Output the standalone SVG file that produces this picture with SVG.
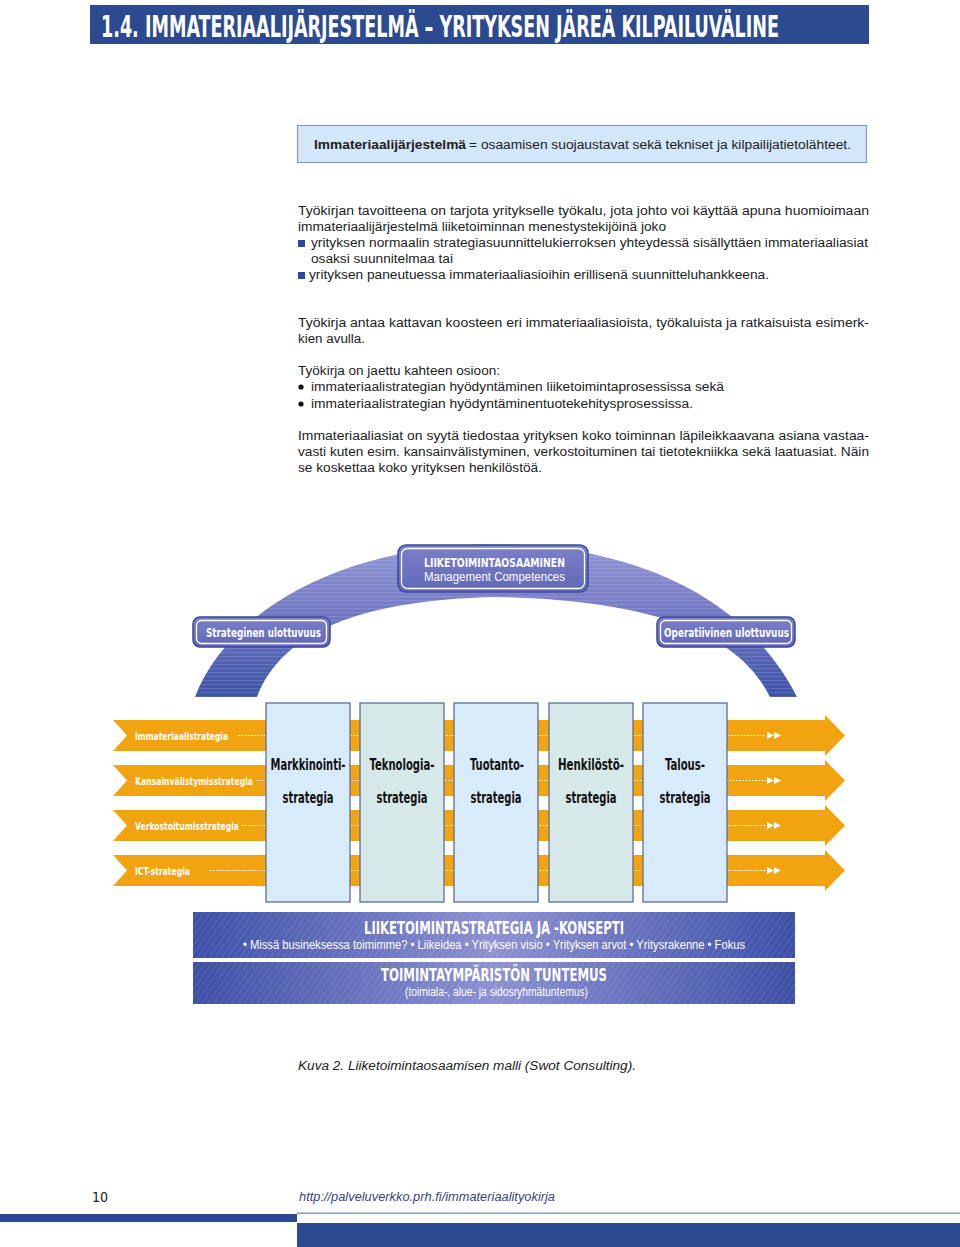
<svg xmlns="http://www.w3.org/2000/svg" width="960" height="1247" viewBox="0 0 960 1247">
<defs>
<style>
.body{font-family:"Liberation Sans",Arial,sans-serif;font-size:12.5px;fill:#222}
.cond{font-family:"Liberation Sans Narrow","DejaVu Sans Condensed","Liberation Sans",sans-serif;font-weight:bold}
.wh{fill:#fff}
.col{fill:#111;font-size:16px;text-anchor:middle}
.lbl{fill:#fff;font-size:11px}
.colbox{stroke:#5e6e96;stroke-width:1.3}
.blue1{fill:#d8ebfa}
.blue2{fill:#d6e8e8}
.orange{fill:#f1a40f}
.dots{stroke:#fff;stroke-width:1.2;stroke-dasharray:1.6 1.6;fill:none}
.tri{fill:#fff}
.pill{stroke:#3b4a98;stroke-width:1.5}
.pillin{fill:none;stroke:#fff;stroke-width:1.3}
</style>
<linearGradient id="archG" x1="0" y1="546" x2="0" y2="697" gradientUnits="userSpaceOnUse">
<stop offset="0" stop-color="#9397d8"/>
<stop offset="0.45" stop-color="#7277c3"/>
<stop offset="1" stop-color="#3b53a7"/>
</linearGradient>
<linearGradient id="pillG" x1="0" y1="0" x2="0" y2="1">
<stop offset="0" stop-color="#7c80c9"/>
<stop offset="1" stop-color="#6267b8"/>
</linearGradient>
<linearGradient id="panelG" x1="193" y1="0" x2="795" y2="0" gradientUnits="userSpaceOnUse">
<stop offset="0" stop-color="#3c4fa6"/>
<stop offset="0.5" stop-color="#8c90d1"/>
<stop offset="1" stop-color="#3c4fa6"/>
</linearGradient>
<pattern id="hstripe" width="6" height="4" patternUnits="userSpaceOnUse">
<rect width="6" height="1.2" fill="#ffffff" opacity="0.12"/>
</pattern>
<pattern id="dstripe" width="5" height="5" patternUnits="userSpaceOnUse" patternTransform="rotate(35)">
<rect width="1.2" height="5" fill="#ffffff" opacity="0.1"/>
</pattern>
</defs>
<rect width="960" height="1247" fill="#fff"/>

<g id="header">
<rect x="90" y="5" width="779" height="39" fill="#2c4a90"/>
<text x="101" y="37" class="cond wh" font-size="30" textLength="678" lengthAdjust="spacingAndGlyphs">1.4. IMMATERIAALIJÄRJESTELMÄ – YRITYKSEN JÄREÄ KILPAILUVÄLINE</text>
</g>

<g id="definition">
<rect x="297.5" y="125.5" width="569" height="37" fill="#d2e7f8" stroke="#8c9ab4" stroke-width="1.2"/>
<text x="314" y="149" class="body" font-size="13" font-weight="bold" fill="#111" textLength="152" lengthAdjust="spacingAndGlyphs">Immateriaalijärjestelmä</text>
<text x="469" y="149" class="body" font-size="13" textLength="382" lengthAdjust="spacingAndGlyphs">= osaamisen suojaustavat sekä tekniset ja kilpailijatietolähteet.</text>
</g>

<g id="body-text">
<text x="298" y="215" class="body" textLength="571" lengthAdjust="spacingAndGlyphs">Työkirjan tavoitteena on tarjota yritykselle työkalu, jota johto voi käyttää apuna huomioimaan</text>
<text x="298" y="231" class="body" textLength="368" lengthAdjust="spacingAndGlyphs">immateriaalijärjestelmä liiketoiminnan menestystekijöinä joko</text>
<rect x="298" y="240" width="7" height="7" fill="#2c4a90"/>
<text x="311" y="247" class="body" textLength="557" lengthAdjust="spacingAndGlyphs">yrityksen normaalin strategiasuunnittelukierroksen yhteydessä sisällyttäen immateriaaliasiat</text>
<text x="311" y="263" class="body" textLength="142" lengthAdjust="spacingAndGlyphs">osaksi suunnitelmaa tai</text>
<rect x="298" y="272" width="7" height="7" fill="#2c4a90"/>
<text x="309" y="279" class="body" textLength="460" lengthAdjust="spacingAndGlyphs">yrityksen paneutuessa immateriaaliasioihin erillisenä suunnitteluhankkeena.</text>

<text x="298" y="327" class="body" textLength="571" lengthAdjust="spacingAndGlyphs">Työkirja antaa kattavan koosteen eri immateriaaliasioista, työkaluista ja ratkaisuista esimerk-</text>
<text x="298" y="343" class="body" textLength="67" lengthAdjust="spacingAndGlyphs">kien avulla.</text>

<text x="298" y="375" class="body" textLength="202" lengthAdjust="spacingAndGlyphs">Työkirja on jaettu kahteen osioon:</text>
<circle cx="301" cy="387" r="2.6" fill="#111"/>
<text x="311" y="391" class="body" textLength="413" lengthAdjust="spacingAndGlyphs">immateriaalistrategian hyödyntäminen liiketoimintaprosessissa sekä</text>
<circle cx="301" cy="404" r="2.6" fill="#111"/>
<text x="311" y="408" class="body" textLength="382" lengthAdjust="spacingAndGlyphs">immateriaalistrategian hyödyntäminentuotekehitysprosessissa.</text>

<text x="298" y="440" class="body" textLength="571" lengthAdjust="spacingAndGlyphs">Immateriaaliasiat on syytä tiedostaa yrityksen koko toiminnan läpileikkaavana asiana vastaa-</text>
<text x="298" y="456" class="body" textLength="571" lengthAdjust="spacingAndGlyphs">vasti kuten esim. kansainvälistyminen, verkostoituminen tai tietotekniikka sekä laatuasiat. Näin</text>
<text x="298" y="472" class="body" textLength="244" lengthAdjust="spacingAndGlyphs">se koskettaa koko yrityksen henkilöstöä.</text>
</g>

<g id="arch">
<path d="M195,697 C225,618 330,546 496,544 C640,546 748,600 797,697 L770,697 C738,632 650,600 496,597 C360,600 282,632 257,697 Z" fill="url(#archG)"/>
<path d="M195,697 C225,618 330,546 496,544 C640,546 748,600 797,697 L770,697 C738,632 650,600 496,597 C360,600 282,632 257,697 Z" fill="url(#hstripe)"/>
</g>

<g id="node-liiketoimintaosaaminen">
<rect x="398" y="545" width="190" height="47" rx="8" fill="url(#pillG)" class="pill"/>
<rect x="401.5" y="548.5" width="183" height="40" rx="6" class="pillin"/>
<text x="424" y="567" class="cond wh" font-size="13" textLength="141" lengthAdjust="spacingAndGlyphs">LIIKETOIMINTAOSAAMINEN</text>
<text x="424" y="581" class="body" font-size="11" style="fill:#fff" textLength="141" lengthAdjust="spacingAndGlyphs">Management Competences</text>
</g>

<g id="node-strateginen">
<rect x="193" y="617" width="137" height="30" rx="7" fill="url(#pillG)" class="pill"/>
<rect x="196.5" y="620.5" width="130" height="23" rx="5" class="pillin"/>
<text x="206" y="637" class="cond wh" font-size="13" textLength="115" lengthAdjust="spacingAndGlyphs">Strateginen ulottuvuus</text>
</g>

<g id="node-operatiivinen">
<rect x="657" y="617" width="138" height="30" rx="7" fill="url(#pillG)" class="pill"/>
<rect x="660.5" y="620.5" width="131" height="23" rx="5" class="pillin"/>
<text x="664" y="637" class="cond wh" font-size="13" textLength="125" lengthAdjust="spacingAndGlyphs">Operatiivinen ulottuvuus</text>
</g>

<g id="node-immateriaalistrategia">
<polygon class="orange" points="113,720 825,720 825,715 845,735.5 825,756 825,751 113,751 127,735.5"/>
<text x="135" y="740" class="cond lbl" textLength="93" lengthAdjust="spacingAndGlyphs">Immateriaalistrategia</text>
</g>
<g id="node-kansainvalistymisstrategia">
<polygon class="orange" points="113,765 825,765 825,760 845,780.5 825,801 825,796 113,796 127,780.5"/>
<text x="135" y="785" class="cond lbl" textLength="118" lengthAdjust="spacingAndGlyphs">Kansainvälistymisstrategia</text>
</g>
<g id="node-verkostoitumisstrategia">
<polygon class="orange" points="113,810 825,810 825,805 845,825.5 825,846 825,841 113,841 127,825.5"/>
<text x="135" y="830" class="cond lbl" textLength="104" lengthAdjust="spacingAndGlyphs">Verkostoitumisstrategia</text>
</g>
<g id="node-ict-strategia">
<polygon class="orange" points="113,855 825,855 825,850 845,870.5 825,891 825,886 113,886 127,870.5"/>
<text x="135" y="875" class="cond lbl" textLength="55" lengthAdjust="spacingAndGlyphs">ICT-strategia</text>
</g>

<g id="connectors">
<line class="dots" x1="238" y1="735.5" x2="766" y2="735.5"/>
<polygon class="tri" points="767,732 774,735.5 767,739"/><polygon class="tri" points="774,732 781,735.5 774,739"/>
<line class="dots" x1="256" y1="780.5" x2="766" y2="780.5"/>
<polygon class="tri" points="767,777 774,780.5 767,784"/><polygon class="tri" points="774,777 781,780.5 774,784"/>
<line class="dots" x1="242" y1="825.5" x2="766" y2="825.5"/>
<polygon class="tri" points="767,822 774,825.5 767,829"/><polygon class="tri" points="774,822 781,825.5 774,829"/>
<line class="dots" x1="210" y1="870.5" x2="766" y2="870.5"/>
<polygon class="tri" points="767,867 774,870.5 767,874"/><polygon class="tri" points="774,867 781,870.5 774,874"/>
</g>

<g id="node-markkinointistrategia">
<rect x="266" y="703" width="84" height="199" class="colbox blue1"/>
<text x="308" y="770" class="cond col" textLength="75" lengthAdjust="spacingAndGlyphs">Markkinointi-</text>
<text x="308" y="803" class="cond col" textLength="51" lengthAdjust="spacingAndGlyphs">strategia</text>
</g>
<g id="node-teknologiastrategia">
<rect x="360" y="703" width="84" height="199" class="colbox blue2"/>
<text x="402" y="770" class="cond col" textLength="65" lengthAdjust="spacingAndGlyphs">Teknologia-</text>
<text x="402" y="803" class="cond col" textLength="51" lengthAdjust="spacingAndGlyphs">strategia</text>
</g>
<g id="node-tuotantostrategia">
<rect x="454" y="703" width="84" height="199" class="colbox blue1"/>
<text x="497" y="770" class="cond col" textLength="54" lengthAdjust="spacingAndGlyphs">Tuotanto-</text>
<text x="496" y="803" class="cond col" textLength="51" lengthAdjust="spacingAndGlyphs">strategia</text>
</g>
<g id="node-henkilostostrategia">
<rect x="549" y="703" width="84" height="199" class="colbox blue2"/>
<text x="591" y="770" class="cond col" textLength="66" lengthAdjust="spacingAndGlyphs">Henkilöstö-</text>
<text x="591" y="803" class="cond col" textLength="51" lengthAdjust="spacingAndGlyphs">strategia</text>
</g>
<g id="node-talousstrategia">
<rect x="643" y="703" width="84" height="199" class="colbox blue1"/>
<text x="685" y="770" class="cond col" textLength="40" lengthAdjust="spacingAndGlyphs">Talous-</text>
<text x="685" y="803" class="cond col" textLength="51" lengthAdjust="spacingAndGlyphs">strategia</text>
</g>

<g id="node-liiketoimintastrategia">
<rect x="193" y="912" width="602" height="46" fill="url(#panelG)"/>
<rect x="193" y="912" width="602" height="46" fill="url(#dstripe)"/>
<text x="364" y="934" class="cond wh" font-size="17" textLength="260" lengthAdjust="spacingAndGlyphs">LIIKETOIMINTASTRATEGIA JA -KONSEPTI</text>
<text x="243" y="949" class="body" font-size="10.5" style="fill:#fff" textLength="502" lengthAdjust="spacingAndGlyphs">• Missä busineksessa toimimme?   • Liikeidea   • Yrityksen visio   • Yrityksen arvot   • Yritysrakenne   • Fokus</text>
</g>
<g id="node-toimintaymparisto">
<rect x="193" y="962" width="602" height="42" fill="url(#panelG)"/>
<rect x="193" y="962" width="602" height="42" fill="url(#dstripe)"/>
<text x="381" y="981" class="cond wh" font-size="17" textLength="226" lengthAdjust="spacingAndGlyphs">TOIMINTAYMPÄRISTÖN TUNTEMUS</text>
<text x="405" y="996" class="body" font-size="10.5" style="fill:#fff" textLength="183" lengthAdjust="spacingAndGlyphs">(toimiala-, alue- ja sidosryhmätuntemus)</text>
</g>

<g id="caption">
<text x="298" y="1070" class="body" font-size="13" font-style="italic" fill="#111" textLength="338" lengthAdjust="spacingAndGlyphs">Kuva 2. Liiketoimintaosaamisen malli (Swot Consulting).</text>
</g>

<g id="footer">
<text x="92" y="1202" font-family="Liberation Sans Narrow, DejaVu Sans Condensed, sans-serif" font-size="14" fill="#222">10</text>
<text x="299" y="1201" class="body" font-size="13" font-style="italic" style="fill:#35457a" textLength="256" lengthAdjust="spacingAndGlyphs">http://palveluverkko.prh.fi/immateriaalityokirja</text>
<rect x="297" y="1212.5" width="663" height="1.5" fill="#8c9cc0"/>
<rect x="0" y="1214" width="297" height="8" fill="#2c4a90"/>
<rect x="297" y="1223" width="663" height="24" fill="#2c4a90"/>
</g>
</svg>
